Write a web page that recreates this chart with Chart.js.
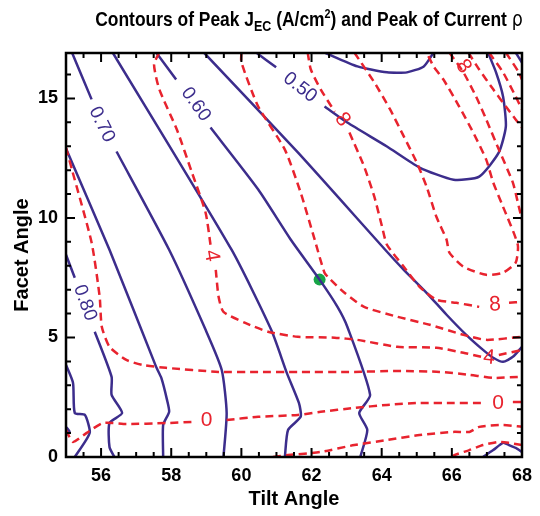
<!DOCTYPE html>
<html>
<head>
<meta charset="utf-8">
<script src="https://cdn.jsdelivr.net/npm/chart.js@4"></script>
<style>
  body { margin: 0; background: #fff; }
  #wrap { position: relative; width: 540px; height: 516px; }
  #title {
    position: absolute; left: 309px; top: 7px;
    transform: translateX(-50%) scaleX(0.83);
    white-space: nowrap;
    font-family: 'Liberation Sans', Arial, sans-serif;
    font-weight: bold; font-size: 21px; color: #000;
  }
  #title sub { font-size: 15px; vertical-align: -5px; line-height: 0; }
  #title sup { font-size: 13px; vertical-align: 8px; line-height: 0; }
  #title .rho { font-weight: normal; font-family: 'DejaVu Sans', sans-serif; font-size: 21px; }
</style>
</head>
<body>
<div id="wrap">
  <canvas id="chart"></canvas>
  <div id="title">Contours of Peak J<sub>EC</sub> (A/cm<sup>2</sup>) and Peak of Current <span class="rho">ρ</span></div>
</div>
<script>
// axis ranges and tick labels
const xRange = [55, 68];
const yRange = [0, 16.9];
const xTickLabels = [56, 58, 60, 62, 64, 66, 68];
const yTickLabels = [0, 5, 10, 15];

// peak J_EC contours (solid), each a list of segments of [tilt, facet]
const jec045 = [
  [[62.37,16.92],[63.31,16.34],[64.15,16.09],[64.72,16.09],[65.20,16.34],[65.48,16.92]],
  [[67.82,16.92],[68.0,16.5]]
];
const jec050 = [
  [[60.42,16.92],[60.99,16.30]],
  [[62.37,14.66],[63.02,13.99],[64.15,12.99],[65.08,12.11],[66.05,11.60],[66.78,11.73],[67.34,12.74],[67.54,13.83],[67.46,15.08],[67.26,16.09],[67.03,16.92]]
];
const jec055 = [
  [[58.93,16.92],[61.61,12.74],[64.10,8.67],[64.63,7.83],[65.28,6.87],[65.85,5.95],[66.41,5.11],[66.89,4.48],[67.18,4.15],[67.46,3.98],[67.74,4.19],[68.0,4.61]],
  [[66.89,0],[67.18,0.29],[67.46,0.59],[67.63,0.50],[67.82,0.38],[68,0.21]]
];
const jec060 = [
  [[57.57,16.92],[58.14,15.79]],
  [[59.12,13.78],[60.48,11.19],[61.41,9.09],[62.23,7.42],[62.74,6.28],[63.02,5.45],[63.67,2.60],[63.36,1.84],[63.59,1.13],[63.39,0]]
];
const jec065 = [
  [[56.33,16.92],[59.72,8.67],[60.85,5.32],[61.30,3.5],[61.64,2.26],[61.69,1.68],[61.33,1.13],[61.24,0]]
];
const jec070 = [
  [[55.17,16.92],[55.73,14.96]],
  [[56.44,12.78],[57.94,8.67],[58.98,5.32],[59.44,3.64],[59.58,1.84],[59.49,0]]
];
const jec075 = [
  [[55.0,12.9],[56.24,8.67],[57.57,3.77],[57.72,3.3],[57.88,2.39],[57.94,1.89],[57.77,1.34],[57.77,0]]
];
const jec080 = [
  [[55.0,8.46],[55.25,7.50]],
  [[55.82,5.24],[56.30,3.35],[56.30,2.60],[56.60,1.84],[56.24,1.42],[56.24,0.42],[56.38,0]]
];
const jec085 = [
  [[55.0,3.85],[55.2,3.10],[55.25,1.84],[55.54,1.76],[55.68,1.05],[55.54,0.63],[55.25,0]],
  [[55.0,1.26],[55.1,1.05],[55.0,0.92]]
];

// peak current rho contours (dashed)
const rhoM4 = [
  [[66.0,0],[66.07,0.08],[66.50,0.29],[66.89,0.50],[67.34,0.63],[67.63,0.59],[68,0.50]]
];
const rhoM2 = [
  [[60.90,0],[61.33,0.08],[62.26,0.21],[63.22,0.50],[64.15,0.71],[65.08,0.92],[66.05,1.05],[66.50,1.05],[66.78,1.26],[67.46,1.34],[68,1.26]]
];
const rho0 = [
  [[55.0,1.13],[55.2,0.63],[55.59,1.01],[56.05,1.42],[56.72,1.38],[57.85,1.42],[58.59,1.47]],
  [[59.58,1.55],[60.48,1.68],[61.61,1.76],[62.26,1.89],[63.22,2.05],[64.15,2.18],[65.08,2.26],[66.05,2.26],[66.84,2.26]],
  [[67.74,2.30],[68,2.30]]
];
const rho2 = [
  [[55.0,12.94],[55.17,12.02],[55.73,8.97],[55.96,6.70],[56.02,5.45],[56.24,4.61],[56.72,4.06],[57.18,3.85],[57.85,3.73],[59.35,3.56],[60.48,3.56],[61.61,3.56],[63.22,3.56],[64.44,3.60],[65.65,3.56],[66.50,3.44],[67.18,3.31],[67.91,3.35],[68,3.35]]
];
const rho4 = [
  [[57.66,16.92],[57.51,16.42],[57.66,15.38],[58.16,13.70],[58.59,11.90],[58.98,10.22],[59.12,8.88]],
  [[59.27,7.83],[59.35,6.70],[59.49,6.07],[60.11,5.61],[60.76,5.24],[61.61,5.03],[62.66,4.99],[63.31,4.90],[64.44,4.61],[65.56,4.57],[66.33,4.36],[66.84,4.19]],
  [[67.34,4.27],[68,4.48]]
];
const rho6 = [
  [[60.0,16.92],[60.0,16.51],[60.48,14.66],[61.24,12.86],[61.69,11.06],[62.09,9.09],[62.37,7.71],[62.54,7.42],[62.94,6.87],[63.50,6.28],[64.44,5.87],[65.37,5.53],[66.33,5.11],[66.98,4.90],[68,5.03]]
];
const rho8 = [
  [[61.89,16.92],[61.98,16.21],[62.26,15.38],[62.66,14.45]],
  [[63.08,13.57],[63.50,12.15],[63.79,10.89],[64.01,9.64],[64.15,8.88],[64.63,7.96],[65.08,7.12],[65.56,6.58],[66.13,6.45],[66.78,6.28]],
  [[67.63,6.45],[68,6.49]]
];
const rho10 = [
  [[63.22,16.92],[63.79,15.67],[64.24,14.54],[64.63,13.41],[65.0,12.32],[65.28,11.31],[65.56,10.05],[65.85,9.09],[65.93,8.55],[66.33,7.96],[66.98,7.62],[67.46,7.71],[67.82,8.13],[67.88,8.88],[67.46,10.47],[67.18,11.48],[66.98,12.44],[66.61,13.57],[66.21,14.66],[65.76,15.79],[65.48,16.34],[65.28,16.92]]
];
const rhoUpper = [
  [[65.93,16.92],[66.33,16.09],[66.69,15.08],[66.98,14.12],[67.34,12.86],[67.74,11.48],[67.91,10.47],[68,9.93]],
  [[66.47,16.92],[66.78,16.21],[67.18,15.38],[67.54,14.66],[67.82,14.12],[68,13.78]],
  [[67.06,16.92],[67.46,16.09],[67.82,15.08],[68,14.54]],
  [[67.54,16.92],[67.91,16.09],[68,15.79]]
];

// contour labels: text, tilt, facet
const jecLabels = [['0.70', 56.02, 13.91], ['0.60', 58.70, 14.75], ['0.50', 61.67, 15.46], ['0.80', 55.54, 6.45]];
const rhoLabels = [['4', 59.15, 8.42], ['4', 67.06, 4.15], ['8', 62.88, 14.12], ['8', 67.23, 6.37], ['8', 66.33, 16.34], ['0', 59.01, 1.55], ['0', 67.32, 2.26]];
const jecLabelAngles = [64, 54, 38, 70];
const rhoLabelAngles = [80, 5, 54, -3, 55, 0, 0];

// marked point
const peakPoint = [[62.23, 7.42]];

const BLUE = '#3c2d8c';
const RED = '#e8232e';

function lineSets(groups, color, dashed) {
  const out = [];
  groups.forEach(g => g.forEach(seg => {
    out.push({
      data: seg.map(p => ({ x: p[0], y: p[1] })),
      borderColor: color,
      borderWidth: 2.5,
      borderDash: dashed ? [8, 5] : [],
      pointRadius: 0,
      showLine: true,
      tension: 0.2,
      fill: false
    });
  }));
  return out;
}

const datasets = [
  ...lineSets([rhoM4, rhoM2, rho0, rho2, rho4, rho6, rho8, rho10, rhoUpper], RED, true),
  ...lineSets([jec045, jec050, jec055, jec060, jec065, jec070, jec075, jec080, jec085], BLUE, false),
  {
    data: peakPoint.map(p => ({ x: p[0], y: p[1] })),
    pointRadius: 6, pointBackgroundColor: '#17a548', pointBorderWidth: 0, showLine: false
  }
];

const FONT = "'Liberation Sans', Arial, sans-serif";

// box, inward ticks on all four sides, and contour labels
const frame = {
  id: 'frame',
  afterDatasetsDraw(chart) {
    const { ctx, chartArea: a, scales: { x, y } } = chart;
    ctx.save();
    ctx.strokeStyle = '#000';
    ctx.lineWidth = 2;
    ctx.beginPath();
    for (let v = xRange[0] + 0.5; v < xRange[1]; v += 0.5) {
      const px = x.getPixelForValue(v);
      const len = xTickLabels.includes(v) ? 9 : 5;
      ctx.moveTo(px, a.bottom); ctx.lineTo(px, a.bottom - len);
      ctx.moveTo(px, a.top); ctx.lineTo(px, a.top + len);
    }
    for (let v = 1; v < yRange[1]; v += 1) {
      const py = y.getPixelForValue(v);
      const len = yTickLabels.includes(v) ? 9 : 5;
      ctx.moveTo(a.left, py); ctx.lineTo(a.left + len, py);
      ctx.moveTo(a.right, py); ctx.lineTo(a.right - len, py);
    }
    ctx.stroke();
    ctx.lineWidth = 2.5;
    ctx.strokeRect(a.left, a.top, a.right - a.left, a.bottom - a.top);

    ctx.textAlign = 'center';
    ctx.textBaseline = 'middle';
    const put = (list, angles, color, size) => {
      ctx.fillStyle = color;
      ctx.font = size + "px 'Liberation Sans', sans-serif";
      list.forEach((l, i) => {
        ctx.save();
        ctx.translate(x.getPixelForValue(l[1]), y.getPixelForValue(l[2]));
        ctx.rotate(angles[i] * Math.PI / 180);
        ctx.fillText(l[0], 0, 0);
        ctx.restore();
      });
    };
    put(jecLabels, jecLabelAngles, BLUE, 19);
    put(rhoLabels, rhoLabelAngles, RED, 21);
    ctx.restore();
  }
};

new Chart(document.getElementById('chart'), {
  type: 'scatter',
  data: { datasets },
  options: {
    responsive: true,
    maintainAspectRatio: false,
    animation: false,
    layout: { padding: { top: 53, right: 14, left: 0, bottom: 0 } },
    plugins: { legend: { display: false }, tooltip: { enabled: false }, title: { display: false } },
    scales: {
      x: {
        type: 'linear', min: xRange[0], max: xRange[1],
        grid: { display: false, drawTicks: false },
        border: { display: false },
        ticks: {
          stepSize: 1, autoSkip: false, maxRotation: 0, padding: 8,
          color: '#000', font: { family: FONT, size: 18, weight: 'bold' },
          callback: v => xTickLabels.includes(v) ? String(v) : ''
        },
        title: { display: true, text: 'Tilt Angle', color: '#000', padding: { top: 0, bottom: 5 },
                 font: { family: FONT, size: 20, weight: 'bold' } },
        afterFit: s => { s.height = 59; }
      },
      y: {
        type: 'linear', min: yRange[0], max: yRange[1],
        grid: { display: false, drawTicks: false },
        border: { display: false },
        ticks: {
          stepSize: 1, autoSkip: false, padding: 8,
          color: '#000', font: { family: FONT, size: 18, weight: 'bold' },
          callback: v => yTickLabels.includes(v) ? String(v) : ''
        },
        title: { display: true, text: 'Facet Angle', color: '#000', padding: { top: 10, bottom: 0 },
                 font: { family: FONT, size: 20, weight: 'bold' } },
        afterFit: s => { s.width = 66; }
      }
    }
  },
  plugins: [frame]
});
</script>
</body>
</html>
